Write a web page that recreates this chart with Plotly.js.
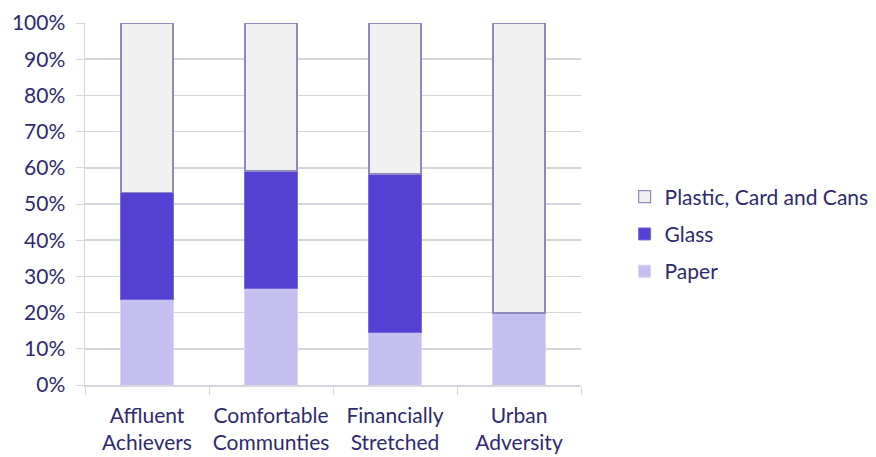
<!DOCTYPE html>
<html><head><meta charset="utf-8">
<script src="https://cdn.plot.ly/plotly-3.0.1.min.js"></script>
<style>html,body{margin:0;padding:0;background:#fff}#chart{width:876px;height:457px}</style>
</head><body><div id="chart"></div>
<script>
const categories = ["Affluent<br>Achievers", "Comfortable<br>Communties", "Financially<br>Stretched", "Urban<br>Adversity"];
const paper = [23.5, 26.7, 14.5, 19.9];
const glass = [29.6, 32.4, 43.8, 0];
const plastic = [46.9, 40.9, 41.7, 80.1];
const yTickVals = [0, 10, 20, 30, 40, 50, 60, 70, 80, 90, 100];
const yTickText = ["0%", "10%", "20%", "30%", "40%", "50%", "60%", "70%", "80%", "90%", "100%"];

const textColor = "#2E2A6E";
const gridColor = "#D6D5DE";
const font = {family: "Lato, 'Open Sans', sans-serif", size: 21, color: textColor};
const legendFont = {family: "Lato, 'Open Sans', sans-serif", size: 21, color: textColor};

const traces = [
  {type: "bar", name: "Paper", x: categories, y: paper, legendgroup: "a", legendrank: 3,
   marker: {color: "#C5BFEF", line: {color: "#D8D4F5", width: 1}}},
  {type: "bar", name: "Glass", x: categories, y: glass, legendgroup: "b", legendrank: 2,
   marker: {color: "#5540D4", line: {color: "#7A6BE0", width: 1}}},
  {type: "bar", name: "Plastic, Card and Cans", x: categories, y: plastic, legendgroup: "c", legendrank: 1,
   marker: {color: "#F0F0F0", line: {color: "#8F89BD", width: 1.2}}}
];

const layout = {
  width: 876, height: 457,
  margin: {l: 85, r: 295, t: 23, b: 72},
  paper_bgcolor: "#fff", plot_bgcolor: "#fff",
  barmode: "stack", bargap: 0.58,
  font: font,
  showlegend: true,
  legend: {xref: "container", yref: "container", x: 0.713, xanchor: "left", y: 0.488, yanchor: "middle",
           traceorder: "grouped", tracegroupgap: 7,
           font: legendFont, itemwidth: 30, bgcolor: "rgba(0,0,0,0)"},
  xaxis: {showline: true, linecolor: gridColor, linewidth: 1.5,
          ticks: "outside", tickson: "boundaries", ticklen: 8, tickcolor: gridColor,
          tickfont: font, showgrid: false, ticklabelstandoff: 11, tickangle: 0},
  yaxis: {range: [0, 100], tickvals: yTickVals, ticktext: yTickText,
          showline: true, linecolor: gridColor, linewidth: 1.5,
          ticks: "outside", ticklen: 8, tickcolor: gridColor,
          showgrid: true, gridcolor: gridColor, gridwidth: 1.5,
          tickfont: font, zeroline: false, ticklabelstandoff: 6}
};
Plotly.newPlot("chart", traces, layout, {displayModeBar: false, staticPlot: true});
</script></body></html>
